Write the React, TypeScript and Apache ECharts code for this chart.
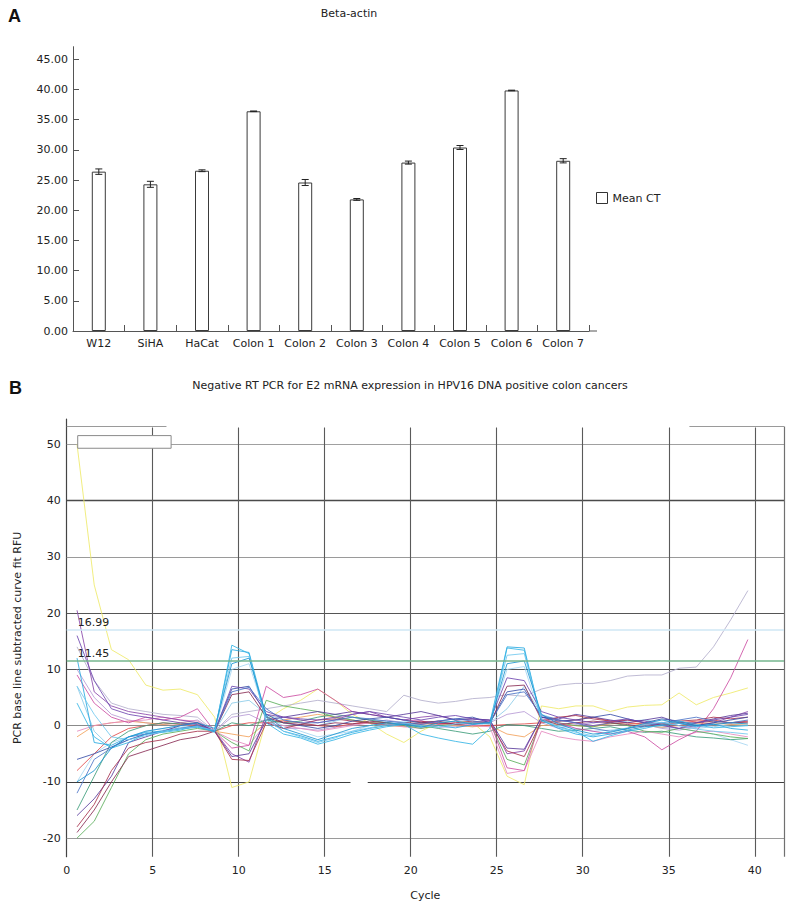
import React, { useEffect, useRef } from "react";
import * as echarts from "echarts";

// ---------- Panel A data ----------
const categories = ["W12", "SiHA", "HaCat", "Colon 1", "Colon 2", "Colon 3", "Colon 4", "Colon 5", "Colon 6", "Colon 7"];
const meanCt = [26.4, 24.3, 26.55, 36.4, 24.6, 21.8, 27.9, 30.4, 39.85, 28.2];
const ctError = [0.45, 0.5, 0.15, 0.05, 0.5, 0.15, 0.25, 0.33, 0.05, 0.35];
const ctTicks = [0, 5, 10, 15, 20, 25, 30, 35, 40, 45];

// ---------- Panel B data ----------
const cycles = [0.6, 1.6, 2.6, 3.6, 4.6, 5.6, 6.6, 7.6, 8.6, 9.6, 10.6, 11.6, 12.6, 13.6, 14.6, 15.6, 16.6, 17.6, 18.6, 19.6,
  20.6, 21.6, 22.6, 23.6, 24.6, 25.6, 26.6, 27.6, 28.6, 29.6, 30.6, 31.6, 32.6, 33.6, 34.6, 35.6, 36.6, 37.6, 38.6, 39.6];
const cycleTicks = [0, 5, 10, 15, 20, 25, 30, 35, 40];
const rfuTicks = [-20, -10, 0, 10, 20, 30, 40, 50];
const thresholds = [16.99, 11.45];

const yellowCurve = [50, 25, 13.5, 11.7, 7.2, 6.3, 6.5, 5.5, 1.5, -11, -10, 1, 3, 4.5, 6.5, 4.5, 2, 0.5, -1.5, -3, -1, 0.5, 0.8, 0.5, -2, -9, -10.5, 3.5, 3, 3.5, 3.5, 2.5, 3.3, 3.6, 3.7, 5.8, 3.7, 5, 5.8, 6.7];
const grayCurve = [14, 8, 4, 3, 2.5, 2, 1.8, 1.5, -1, 2, 2.5, 3, 3.5, 4, 4.5, 4, 3.5, 3, 2.5, 5.4, 4.5, 4, 4.3, 4.8, 5, 5.5, 5.2, 6.5, 7.2, 7.5, 7.5, 8, 8.8, 9, 9, 10.2, 10.4, 14, 18.8, 24];
const lightBlue1 = [-10, -5, -3, -2, -1, -0.5, 0, 0.2, -1, 10, 11, 1.5, 0, -1, -2, -1.5, -1, 0, 0.5, 0.8, 0.5, 0.2, 0, -0.2, 0.5, 10, 10.5, 1, 0, -0.5, -1, -0.8, -0.5, 0, -0.3, -0.5, -1, -1.5, -2.5, -3.5];
const lightBlue2 = [7, -1, -4, -2.5, -1.5, -0.8, -0.3, 0, -1, 4, 4.5, 2, 1, 0.5, 0, 0.8, 1.5, 1, 0.8, 0.5, 0.2, 0.5, 0.8, 0.3, 0.5, 3, 7, 2, 1, 0.5, 0, 0.3, 0.8, 1, 0.5, 0, -0.5, -0.2, 0.2, 0];
const violetLight = [10, 5, 2, 1, 0.5, 0.2, 0.5, 1, -1, 1.5, 2, 0.5, -0.5, -0.5, -0.8, -0.3, 0.2, 0.5, 1, 0.5, 0.2, -0.3, -0.2, 0.2, 0.5, 2, 2.5, 0.5, -0.5, 0.2, 0.5, 0.8, 0.5, 0.2, -0.5, -0.8, -0.3, 0.2, 0.5, 0.8];
const orangeCurve = [-2, 0, 0.5, 0.8, 0.5, 0.2, 0.5, 0.3, -1, -1.5, -2, 0.5, 1, 1.5, 2, 1.5, 1, 0.5, 0, -0.2, 0, 0.3, 0, -0.2, 0, -1.5, -2, 0, 0.2, 0, -0.2, 0.3, 0.5, 0, -0.3, 0, 0.3, 0.5, 0.2, 0.3];
const redCurve = [-8, -5, -2, -0.5, 0, 0.5, 0.2, 0, -1, 0, 0.5, 0.5, 0.8, 0.5, 0, -0.2, 0.3, 0.5, 0.2, 0, 0.3, 0.5, 0.2, 0, 0, 0.2, 0.3, 0.5, 0.8, 1, 1.5, 0.8, 0.5, 0.3, 0.2, 0.5, 0.8, 1, 0.5, 0.8];
const tealCurve = [-15, -9, -3, -1, 0, 0.5, 0.3, 0.5, -1, 0.5, 0, 1, 0.5, 0.8, 1.5, 2, 1.5, 1, 0.5, 0.2, 0, -0.5, -1, -1.5, -1, 0.2, 0, -0.5, -1, -0.8, -0.5, -0.2, -0.8, -1.2, -1, -1.5, -2, -2.2, -2.5, -2.3];
const pinkCurve = [-1, 0, 0.5, 0.8, 1, 1.5, 1, 0.8, -1, -2.5, -3.5, 0.5, 0, -0.5, -1, -0.5, 0, 0.5, 0.2, -0.2, -0.5, 0.2, 0.5, 0, -0.2, -8.5, -8, -1, -2, -2.5, -2.8, -2, -1.5, -1, -1.5, -2, -1.2, -1, -1.5, -2];
const greenCurve = [-20, -17, -11, -5, -2.5, -1.5, -1, -0.5, -1, -3, -4.5, 4.5, 3.5, 3, 2.5, 1.5, 1, 0.5, 0.5, 0, -0.5, 0, 0.2, 0.5, 0.5, -6, -7, 1, 0.5, 0, -0.2, 0.5, 0, -1, -1.2, -0.5, -1, -1.5, -2, -2.3];
const magentaCurve = [9, 4, 1.5, 0.5, 1.5, 1, 1.5, 3, -1, -4, -3.5, 7, 5, 5.5, 6.5, 4.5, 2.5, 2, 1.5, 1, 0.8, 0.5, 0.2, 0.5, 0.8, -7.5, -8, 1.2, 0.5, -0.5, -1, -1.5, -1, -2, -4.3, -2.5, -1, 3, 8.5, 15.3];
const purpleDip = [20.5, 6, 3.5, 2.5, 2, 1.5, 1, 0.5, -1, -5, -6.5, 2, 1.5, 1, 0.5, 1, 2, 2.5, 1.5, 1, 1.5, 1.8, 1, 1.2, 1, -5, -4.5, 1.5, 1, 0.5, 0, 0.5, 1, 0.8, 0.2, -0.5, 0, 0.5, 1.5, 2.5];
const indigoDip = [-16, -13, -9, -3, -2, -1, 0, 0.5, -1, -5.5, -5, 1, 1.5, 2, 2.5, 2, 2.5, 2, 1.5, 2, 2.5, 1.8, 1, 1.2, 1, -4, -4.2, 1.5, 1.2, 2, 1.5, 1, 0.5, 1, 1.5, 0.5, 0.5, 1.2, 1.8, 2.2];
const crimsonDip = [-18, -14, -8, -4, -3, -2.5, -1.5, -1, -1, -6, -6.2, 0.5, -0.5, 0.2, 1, 1.2, 0.8, 0.5, 0.2, 0.5, 0.8, 0.3, 0.5, 0.8, 0.5, -4.5, -5.5, 0.8, 1.5, 1.8, 1.2, 0.8, 1, 0.5, 0.2, 0.8, 1, 1.5, 1.2, 1.5];
const navyPeak = [-6, -5, -3.8, -2.5, -1.5, -1, -0.5, 0, -1, 6.5, 7, 2, 0.5, 0, -0.5, 0, 0.8, 1.2, 1.5, 1, 0.5, 0.8, 1.2, 1.5, 0.5, 6, 6.5, 1.5, 0.8, 1, 1.5, 2, 1.2, 0.5, 1.2, 0.8, 0, 0.5, 1, 1.5];
const maroonPeak = [-19, -15, -10, -5.5, -4.5, -3.5, -2.5, -2, -1, 5.5, 6, 1.5, 0.5, 0.2, 0, 0.5, 0.3, 0.8, 0.5, 0.2, 0.5, 0.8, 0.2, 0.5, 0.3, 7, 7.2, 1, 0.2, 0.5, 0.8, 0.5, 0.2, -0.2, 0.3, 0, 0.5, 0.8, 0.5, 0.6];
const violetPeak = [16, 8, 3, 2, 1.5, 1, 0.5, 0.2, -1, 7, 6.5, 2.5, 1.5, 1.2, 1, 1.5, 2, 2.5, 2, 1.5, 1, 1.5, 1.8, 1.2, 0.8, 8.5, 8, 2.5, 1.5, 1, 0.5, 0.8, 1.2, 0.5, 0, -0.5, 0.5, 1, 1.5, 2];
const bluePeak = [-12, -6, -4, -2, -1.5, -1, -0.5, -0.2, -1, 6, 6.8, 3, 1, 0.5, 0.5, 1, 1.5, 1.2, 0.8, 0.5, 0.2, 0.8, 1.2, 0.8, 0.5, 5.5, 6, 1.8, 1, 0.5, -0.5, -1, -0.5, 0, 0.5, 1, 1.5, 0.8, 0.5, 1];
const cyanPeak1 = [12, -3, -3.5, -2, -1.2, -1, -0.6, -0.3, -1, 13.5, 13, 1.5, -1, -1.8, -2.8, -2, -1.2, -0.5, 0, 0.3, -0.2, 0, -0.4, 0.2, 0.5, 14, 13.8, 1, -0.5, -1.5, -2, -1.5, -0.8, -0.2, 0, 0.4, -0.2, 0.3, -0.5, -0.8];
const cyanPeak2 = [4, -2, -4, -3, -1.5, -1.2, -0.8, 0, -1.2, 14.3, 12.8, 0.5, -1.5, -2.2, -3.3, -2.5, -1.5, -0.8, -0.2, 0.2, -1.5, -2.2, -2.8, -3.3, -0.5, 13.8, 13.4, 0.8, -0.2, -1, -2.8, -1.8, -1, -0.5, 0.2, 0.8, 0.2, -0.4, -0.2, 0];
const cyanPeak3 = [7, 2, -2, -2.5, -1.8, -1, -0.5, -0.2, -0.8, 12, 12.3, 1, -1, -2, -3, -2.2, -1, -0.4, 0.2, 0.5, 0, -0.3, 0.3, 0.5, 0.3, 12.5, 12.8, 1.2, -0.3, -1.2, -1.8, -1, -0.4, 0.2, 0.6, 0, -0.6, -1, -1.2, -1.5];
const cyanPeak4 = [-10, -8, -4, -2, -1, -0.5, 0, 0.5, -0.5, 11, 12, 1.8, -0.5, -1.5, -2.5, -1.5, -0.5, 0, 0.5, 0.2, -0.3, 0.5, 0.8, 0.3, 0.5, 11, 11.5, 2, 0.3, -0.8, -1.5, -1.2, -0.5, 0.4, 1, 0.5, 0, 0.2, 0.5, 0.3];

const curves: { name: string; color: string; values: number[] }[] = [
  { name: "yellow", color: "#eeea6a", values: yellowCurve },
  { name: "gray", color: "#b4afcc", values: grayCurve },
  { name: "lightBlue1", color: "#a6d6f2", values: lightBlue1 },
  { name: "lightBlue2", color: "#8ccbe9", values: lightBlue2 },
  { name: "violetLight", color: "#b79bd6", values: violetLight },
  { name: "orange", color: "#f2a15a", values: orangeCurve },
  { name: "red", color: "#e24a4a", values: redCurve },
  { name: "teal", color: "#3d9c7a", values: tealCurve },
  { name: "pink", color: "#e58ac0", values: pinkCurve },
  { name: "green", color: "#5cae5c", values: greenCurve },
  { name: "magenta", color: "#cc4fa3", values: magentaCurve },
  { name: "purpleDip", color: "#8a46aa", values: purpleDip },
  { name: "indigoDip", color: "#5b3c9c", values: indigoDip },
  { name: "crimsonDip", color: "#a8324e", values: crimsonDip },
  { name: "navyPeak", color: "#3a4fa8", values: navyPeak },
  { name: "maroonPeak", color: "#8a2d55", values: maroonPeak },
  { name: "violetPeak", color: "#7048b0", values: violetPeak },
  { name: "bluePeak", color: "#4d76c8", values: bluePeak },
  { name: "cyanPeak1", color: "#29a9e0", values: cyanPeak1 },
  { name: "cyanPeak2", color: "#35b5e5", values: cyanPeak2 },
  { name: "cyanPeak3", color: "#70c8ee", values: cyanPeak3 },
  { name: "cyanPeak4", color: "#1d95cf", values: cyanPeak4 },
];

const FONT = "DejaVu Sans";

export default function App() {
  const ref = useRef<HTMLDivElement>(null);

  useEffect(() => {
    if (!ref.current) return;
    const chart = echarts.init(ref.current, undefined, { renderer: "svg" });

    const yMinB = -23.3;
    const yMaxB = 54.5;
    const xMaxB = 41.7;

    const gridColors: Record<number, string> = {
      50: "#a0a0a0", 40: "#4a4a4a", 30: "#9a9a9a", 20: "#555555",
      10: "#555555", 0: "#8a8a8a", "-20": "#9a9a9a",
    } as any;

    const gridLineData: any[] = [];
    rfuTicks.forEach((v) => {
      if (v === -10) {
        gridLineData.push([
          { coord: [0, v], lineStyle: { color: "#3c3c3c", width: 1.2, type: "solid" } },
          { coord: [16.5, v], lineStyle: { color: "#3c3c3c", width: 1.2, type: "solid" } },
        ]);
        gridLineData.push([
          { coord: [17.5, v], lineStyle: { color: "#3c3c3c", width: 1.2, type: "solid" } },
          { coord: [xMaxB, v], lineStyle: { color: "#3c3c3c", width: 1.2, type: "solid" } },
        ]);
      } else {
        const c = (gridColors as any)[v] || "#888";
        gridLineData.push({ yAxis: v, lineStyle: { color: c, width: v === 40 ? 1.4 : 1.1, type: "solid" } });
      }
    });
    cycleTicks.slice(1).forEach((c) => {
      gridLineData.push([
        { coord: [c, 53], lineStyle: { color: "#5a5a5a", width: 1.1, type: "solid" } },
        { coord: [c, yMinB], lineStyle: { color: "#5a5a5a", width: 1.1, type: "solid" } },
      ]);
    });
    // right border and partial top border
    gridLineData.push([
      { coord: [xMaxB, 53.15], lineStyle: { color: "#707070", width: 1.2, type: "solid" } },
      { coord: [xMaxB, yMinB], lineStyle: { color: "#707070", width: 1.2, type: "solid" } },
    ]);
    gridLineData.push([
      { coord: [0, 53.15], lineStyle: { color: "#9a9a9a", width: 1, type: "solid" } },
      { coord: [5.8, 53.15], lineStyle: { color: "#9a9a9a", width: 1, type: "solid" } },
    ]);
    gridLineData.push([
      { coord: [36.2, 53.15], lineStyle: { color: "#9a9a9a", width: 1, type: "solid" } },
      { coord: [xMaxB, 53.15], lineStyle: { color: "#9a9a9a", width: 1, type: "solid" } },
    ]);

    const thresholdColors = ["#cfe7f5", "#74b68e"];

    const option: any = {
      animation: false,
      textStyle: { fontFamily: FONT },
      graphic: [
        { type: "text", x: 8, y: 7, style: { text: "A", font: "bold 18px 'Liberation Sans'", fill: "#111" } },
        { type: "text", x: 349, y: 13, style: { text: "Beta-actin", font: `11px '${FONT}'`, fill: "#222", textAlign: "center", textVerticalAlign: "middle", align: "center", verticalAlign: "middle" } },
        { type: "text", x: 9, y: 379, style: { text: "B", font: "bold 18px 'Liberation Sans'", fill: "#111" } },
        { type: "text", x: 410, y: 385, style: { text: "Negative RT PCR for E2 mRNA expression in HPV16 DNA positive colon cancers", font: `11px '${FONT}'`, fill: "#222", textAlign: "center", textVerticalAlign: "middle", align: "center", verticalAlign: "middle" } },
        { type: "line", shape: { x1: 589, y1: 331, x2: 597, y2: 331 }, style: { stroke: "#555", lineWidth: 1 } },
      ],
      legend: {
        data: ["Mean CT"],
        left: 591,
        top: 187,
        itemWidth: 11,
        itemHeight: 11,
        icon: "rect",
        itemGap: 5,
        itemStyle: { color: "#fff", borderColor: "#333", borderWidth: 1 },
        textStyle: { fontSize: 11, color: "#222", fontFamily: FONT },
      },
      grid: [
        { left: 73, top: 46.7, width: 516, height: 284.3 },
        { left: 66.7, top: 419, width: 717.3, height: 437.7 },
      ],
      xAxis: [
        {
          type: "category",
          gridIndex: 0,
          data: categories,
          axisLine: { lineStyle: { color: "#555" } },
          axisTick: { show: true, inside: true, length: 6, alignWithLabel: false, lineStyle: { color: "#555" } },
          axisLabel: { interval: 0, fontSize: 11, color: "#222", margin: 7 },
        },
        {
          type: "value",
          gridIndex: 1,
          min: 0,
          max: xMaxB,
          splitLine: { show: false },
          axisLine: { lineStyle: { color: "#444", width: 1.2 } },
          axisTick: { show: true, inside: true, length: 6, customValues: cycleTicks, lineStyle: { color: "#444" } },
          axisLabel: { fontSize: 11, color: "#222", margin: 8, customValues: cycleTicks },
          name: "Cycle",
          nameLocation: "middle",
          nameGap: 33,
          nameTextStyle: { fontSize: 11, color: "#222" },
        },
      ],
      yAxis: [
        {
          type: "value",
          gridIndex: 0,
          min: 0,
          max: 47.1,
          splitLine: { show: false },
          axisLine: { show: true, lineStyle: { color: "#555" } },
          axisTick: { show: true, inside: true, length: 6, customValues: ctTicks, lineStyle: { color: "#555" } },
          axisLabel: { fontSize: 11, color: "#222", margin: 5, customValues: ctTicks, formatter: (v: number) => v.toFixed(2) },
        },
        {
          type: "value",
          gridIndex: 1,
          min: yMinB,
          max: yMaxB,
          splitLine: { show: false },
          axisLine: { show: true, lineStyle: { color: "#444", width: 1.2 } },
          axisTick: { show: true, inside: true, length: 5, customValues: rfuTicks, lineStyle: { color: "#444" } },
          axisLabel: { fontSize: 11, color: "#222", margin: 6, customValues: rfuTicks },
          name: "PCR base line subtracted curve fit RFU",
          nameLocation: "middle",
          nameGap: 44,
          nameTextStyle: { fontSize: 11, color: "#222" },
        },
      ],
      series: [
        {
          name: "Mean CT",
          type: "bar",
          xAxisIndex: 0,
          yAxisIndex: 0,
          data: meanCt,
          barWidth: 14,
          itemStyle: { color: "#fff", borderColor: "#3a3a3a", borderWidth: 1 },
        },
        {
          name: "errors",
          type: "custom",
          xAxisIndex: 0,
          yAxisIndex: 0,
          z: 3,
          data: categories.map((_, i) => [i, meanCt[i] + ctError[i], meanCt[i] - ctError[i]]),
          encode: { x: 0, y: [1, 2] },
          renderItem: (_params: any, api: any) => {
            const i = api.value(0);
            const hi = api.coord([i, api.value(1)]);
            const lo = api.coord([i, api.value(2)]);
            const hw = 3.5;
            const st = { stroke: "#222", lineWidth: 1 };
            return {
              type: "group",
              children: [
                { type: "line", shape: { x1: hi[0], y1: hi[1], x2: lo[0], y2: lo[1] }, style: st },
                { type: "line", shape: { x1: hi[0] - hw, y1: hi[1], x2: hi[0] + hw, y2: hi[1] }, style: st },
                { type: "line", shape: { x1: lo[0] - hw, y1: lo[1], x2: lo[0] + hw, y2: lo[1] }, style: st },
              ],
            };
          },
        },
        {
          name: "gridlines",
          type: "line",
          xAxisIndex: 1,
          yAxisIndex: 1,
          data: [[xMaxB, 0]],
          symbol: "none",
          lineStyle: { opacity: 0 },
          silent: true,
          markLine: {
            silent: true,
            z: 1,
            symbol: ["none", "none"],
            label: { show: false },
            emphasis: { disabled: true },
            data: gridLineData,
          },
          markArea: {
            silent: true,
            z: 10,
            data: [[
              { coord: [0.64, 51.55], itemStyle: { color: "#ffffff", borderColor: "#8a8a8a", borderWidth: 1 } },
              { coord: [6.07, 49.3] },
            ]],
          },
        },
        {
          name: "thresholds",
          type: "line",
          xAxisIndex: 1,
          yAxisIndex: 1,
          data: [[xMaxB, 0]],
          symbol: "none",
          lineStyle: { opacity: 0 },
          silent: true,
          markLine: {
            silent: true,
            z: 3,
            symbol: ["none", "none"],
            emphasis: { disabled: true },
            data: thresholds.map((t, i) => ({
              yAxis: t,
              lineStyle: { color: thresholdColors[i], width: 1.6, type: "solid" },
              label: {
                show: true,
                formatter: t.toFixed(2),
                position: "insideStartTop",
                distance: [11, 2],
                fontSize: 11,
                color: "#222",
                fontFamily: FONT,
              },
            })),
          },
        },
        ...curves.map((c) => ({
          name: c.name,
          type: "line",
          xAxisIndex: 1,
          yAxisIndex: 1,
          z: 2,
          symbol: "none",
          silent: true,
          data: cycles.map((x, i) => [x, c.values[i]]),
          lineStyle: { color: c.color, width: 1, opacity: 0.85 },
        })),
      ],
    };

    chart.setOption(option);
    return () => chart.dispose();
  }, []);

  return <div ref={ref} style={{ position: "fixed", left: 0, top: 0, width: 800, height: 916, background: "#fff" }} />;
}
